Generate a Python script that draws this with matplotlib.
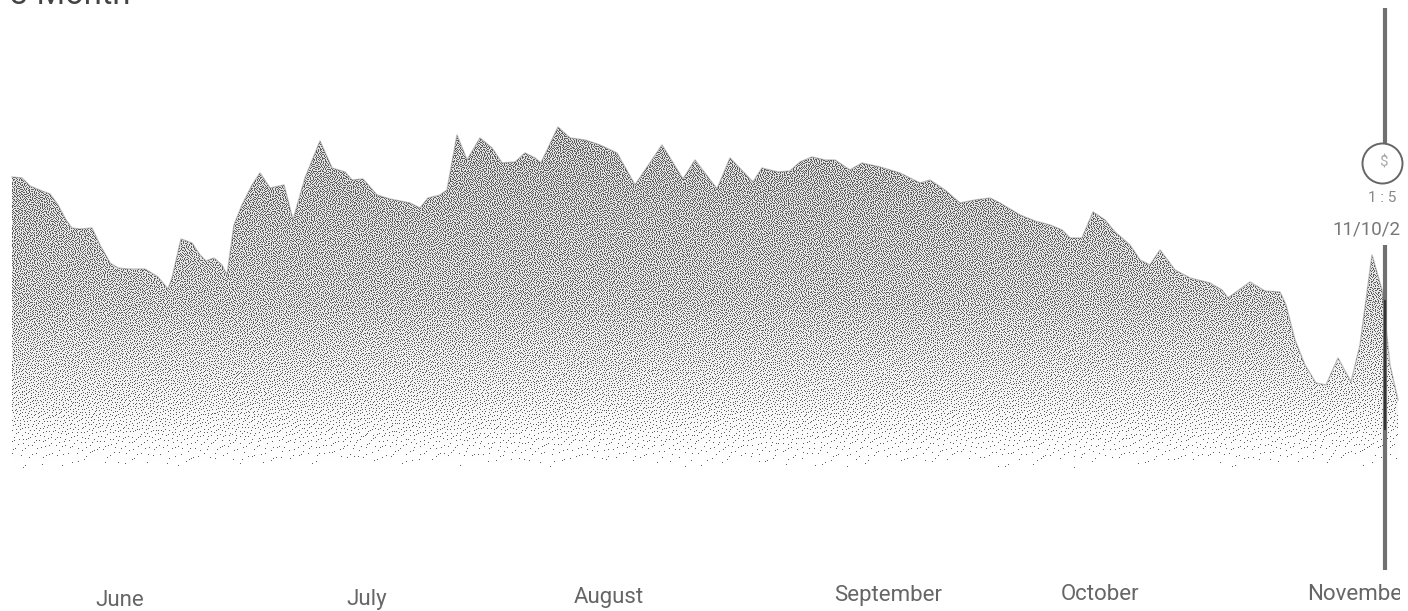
import numpy as np
import matplotlib
matplotlib.use("Agg")
import matplotlib.pyplot as plt

position = [12,22,30,42,50,58,66,72,80,92,100,110,118,128,145,158,168,172,181,192,200,206,214,222,227,234,242,252,260,270,284,293,305,320,332,345,352,363,377,390,410,420,428,440,447,457,467,480,492,502,515,525,535,541,558,570,585,600,617,635,662,683,695,717,730,753,762,778,790,800,812,825,835,850,862,880,900,920,930,945,960,975,990,1000,1020,1035,1050,1062,1070,1082,1093,1105,1115,1130,1140,1150,1160,1175,1190,1210,1222,1228,1250,1265,1280,1286,1295,1305,1316,1326,1338,1351,1360,1372,1382,1390,1398]
price = [293,292,284,279,276,265,250,242,241,242,225,207,202,201,201,193,181,192,231,227,215,209,212,205,195,245,265,285,297,282,285,250,292,329,302,298,290,291,275,271,267,262,272,275,280,335,310,332,322,307,308,317,312,307,343,332,330,325,317,285,325,291,310,281,312,288,302,298,299,308,313,310,310,300,307,303,297,287,290,280,267,270,272,267,255,249,245,240,232,232,258,250,238,225,210,205,220,200,192,187,180,172,188,179,178,165,130,105,87,85,112,88,125,215,180,105,70]

months = ["June", "July", "August", "September", "October", "November"]
month_x = [120, 367, 609, 888, 1100, 1358]
month_y = [-131, -130, -128, -126, -125, -125]

W, H = 1408, 611
AW = 1400
fig = plt.figure(figsize=(W / 100, H / 100), dpi=100, facecolor="white")
ax = fig.add_axes([0, 0, AW / W, 1])
ax.set_xlim(0, AW)
ax.set_ylim(-141, 470)
ax.axis("off")
plt.rcParams["font.family"] = "Roboto"

# Error-diffused grainy texture for the vertical fade of the area fill.
# The threshold jitter is only paper-like grain, it carries no chart data.
rows = np.arange(H)
dens = np.interp(rows, [120, 300, 400, 440, 468], [0.46, 0.33, 0.15, 0.05, 0.0])
buf = [[float(dens[r])] * AW for r in range(H)]
cc, rr = np.meshgrid(np.arange(AW), np.arange(H))
hashv = np.sin(cc * 12.9898 + rr * 78.233) * 43758.5453
jitter = ((hashv - np.floor(hashv)) - 0.5).tolist()
dots = np.zeros((H, AW), dtype=bool)
for r in range(110, 468):
    row = buf[r]
    nxt = buf[r + 1]
    jit = jitter[r]
    for c in range(AW):
        v = row[c]
        on = v + 0.55 * jit[c] >= 0.5
        dots[r, c] = on
        e = v - (1.0 if on else 0.0)
        if c + 1 < AW:
            row[c + 1] += e * 7 / 16
            nxt[c + 1] += e * 1 / 16
        if c > 0:
            nxt[c - 1] += e * 3 / 16
        nxt[c] += e * 5 / 16
under = 0.35 * dens[:, None] * np.ones((H, AW))
rgba = np.zeros((H, AW, 4))
rgba[..., :3] = 0.25
rgba[..., 3] = np.where(dots, 0.85, under)

area = ax.fill_between(position, price, 0, facecolor="none", edgecolor="none")
im = ax.imshow(rgba, extent=(0, AW, -141, 470), aspect="auto", interpolation="nearest", zorder=2)
im.set_clip_path(area.get_paths()[0], transform=ax.transData)
ax.set_xlim(0, AW)
ax.set_ylim(-141, 470)
ax.plot(position, price, color="#666666", lw=1.0, alpha=0.4, zorder=3)

# Cursor line, marker and readout
ax.plot([1385, 1385], [462, 327], color="#707070", lw=3.0, solid_capstyle="butt", zorder=4)
ax.plot([1385, 1385], [225, -100], color="#707070", lw=3.0, solid_capstyle="butt", zorder=4)
ax.plot([1385, 1385], [170, 40], color="#333333", lw=1.4, solid_capstyle="butt", zorder=4)
ax.scatter([1382], [307], s=(2 * 20 * 0.72) ** 2, facecolor="white", edgecolor="#666666", linewidths=1.4, zorder=5, clip_on=False)
ax.text(1383, 307, "$", ha="center", va="center", fontsize=11, color="#aaaaaa", zorder=6)
ax.text(1382, 272, "1 : 5", ha="center", va="center", fontsize=11, color="#888888", clip_on=True, zorder=6)
ax.text(1332, 241, "11/10/2", ha="left", va="center", fontsize=13.5, color="#777777", clip_on=True, zorder=6)

ax.text(10, 466, "3 Month", ha="left", va="baseline", fontsize=23.5, color="#444444", clip_on=True)

for m, x, y in zip(months, month_x, month_y):
    ax.text(x, y, m, ha="center", va="center", fontsize=16, color="#666666", clip_on=True)

fig.savefig("out.png", dpi=100, facecolor="white")
